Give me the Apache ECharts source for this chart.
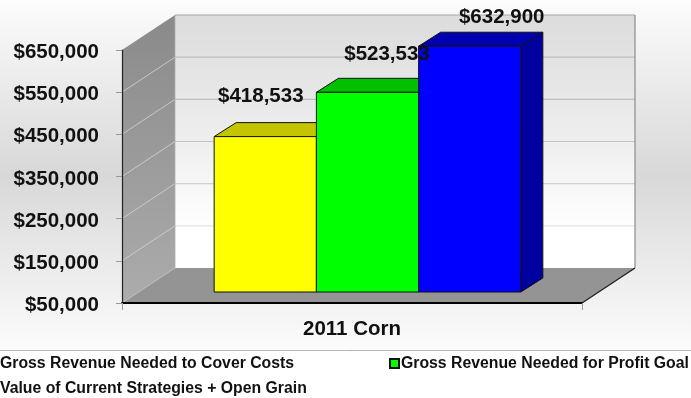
<!DOCTYPE html>
<html>
<head>
<meta charset="utf-8">
<style>html,body{margin:0;padding:0;background:#fff}#c{width:691px;height:398px}</style>
<script src="https://cdn.jsdelivr.net/npm/echarts@6/dist/echarts.min.js"></script>
</head>
<body>
<div id="c"></div>
<script>
const categories = ['2011 Corn'];
const seriesNames = [
  'Gross Revenue Needed to Cover Costs',
  'Gross Revenue Needed for Profit Goal',
  'Value of Current Strategies + Open Grain'
];
const seriesValues = [418533, 523533, 632900];
const tickValues = [50000, 150000, 250000, 350000, 450000, 550000, 650000];

const FONT = '"Liberation Sans", Arial, sans-serif';
const faceColors = ['#ffff00', '#00ff00', '#0000ff'];
const topColors = ['#c4c400', '#00c000', '#0000b0'];
const sideColors = ['#a0a000', '#009800', '#0000a0'];
const gridShades = ['#e2e2e2', '#d0d0d0', '#c4c4c4', '#bebebe', '#bcbcbc'];
// Hand placement of each value caption relative to its bar's top centre
const captionShift = [[-4.5, -40], [19.5, -38], [32, -29]];

const WALL = [53, -35];      // depth of the chart box
const BAR_AT = [15.5, -11];  // where the bar row sits inside that depth
const BAR_D = [22, -14];     // depth of one bar
const BAR_SHARE = 2 / 9;     // width of one bar as a share of the band

const money = v => '$' + v.toLocaleString('en-US');
const poly = (points, fill, stroke, lineWidth) => ({
  type: 'polygon',
  shape: { points },
  style: { fill, stroke: stroke || null, lineWidth: lineWidth || 0 }
});
const seg = (a, b, stroke, lineWidth) => ({
  type: 'line',
  shape: { x1: a[0], y1: a[1], x2: b[0], y2: b[1] },
  style: { stroke, lineWidth }
});
const shift = (p, d) => [p[0] + d[0], p[1] + d[1]];

function renderBox(params, api) {
  const band = api.size([1, 0])[0];
  const cx = api.coord([0, tickValues[0]])[0];
  const yOf = v => api.coord([0, v])[1];
  const x0 = cx - band / 2, x1 = cx + band / 2;
  const lo = tickValues[0], hi = tickValues[tickValues.length - 1];
  const fl = [x0, yOf(lo)], fr = [x1, yOf(lo)], tl = [x0, yOf(hi)];
  const tr = [x1, yOf(hi)];
  const grad = (stops) => ({
    type: 'linear', x: 0, y: 0, x2: 0, y2: 1,
    colorStops: stops.map(s => ({ offset: s[0], color: s[1] }))
  });
  const children = [
    poly([shift(tl, WALL), shift(tr, WALL), shift(fr, WALL), shift(fl, WALL)],
      grad([[0, '#dcdcdc'], [0.5, '#eeeeee'], [0.84, '#ffffff'], [1, '#ffffff']])),
    poly([tl, shift(tl, WALL), shift(fl, WALL), fl], grad([[0, '#8a8a8a'], [1, '#acacac']])),
    poly([fl, shift(fl, WALL), shift(fr, WALL), fr], '#949494')
  ];
  tickValues.slice(1, -1).forEach((v, i) => {
    const f = [x0, yOf(v)], b = shift(f, WALL);
    children.push(seg(f, b, '#d4d4d4', 0.8));
    children.push(seg(b, [x1 + WALL[0], b[1]], gridShades[i], 1.2));
  });
  children.push(seg(fl, shift(fl, WALL), '#c0c0c0', 0.8));
  children.push(seg(shift(tl, WALL), shift(tr, WALL), '#a8a8a8', 1.2));
  children.push(seg(shift(tr, WALL), shift(fr, WALL), '#8c8c8c', 1.2));
  children.push(seg(shift(tl, WALL), shift(fl, WALL), '#b0b0b0', 0.8));
  children.push(seg(fr, shift(fr, WALL), '#222222', 1.4));
  return { type: 'group', children };
}

function renderBar(index) {
  return function (params, api) {
    const band = api.size([1, 0])[0];
    const w = band * BAR_SHARE;
    const top = api.coord([0, api.value(1)]);
    const base = api.coord([0, tickValues[0]]);
    const left = top[0] + BAR_AT[0] + (index - 1.5) * w;
    const right = left + w;
    const yt = top[1] + BAR_AT[1], yb = base[1] + BAR_AT[1];
    const edge = '#111111';
    return {
      type: 'group',
      children: [
        poly([[right, yb], [right + BAR_D[0], yb + BAR_D[1]], [right + BAR_D[0], yt + BAR_D[1]], [right, yt]],
          sideColors[index], edge, 1),
        poly([[left, yt], [left + BAR_D[0], yt + BAR_D[1]], [right + BAR_D[0], yt + BAR_D[1]], [right, yt]],
          topColors[index], edge, 1),
        { type: 'rect', shape: { x: left, y: yt, width: w, height: yb - yt },
          style: { fill: faceColors[index], stroke: edge, lineWidth: 1 } }
      ]
    };
  };
}

function renderCaption(index) {
  return function (params, api) {
    const band = api.size([1, 0])[0];
    const w = band * BAR_SHARE;
    const top = api.coord([0, api.value(1)]);
    return {
      type: 'text',
      z2: 100,
      style: {
        text: money(api.value(1)),
        x: top[0] + BAR_AT[0] + (index - 1) * w + captionShift[index][0],
        y: top[1] + BAR_AT[1] + captionShift[index][1],
        align: 'center', verticalAlign: 'middle',
        font: 'bold 20.5px ' + FONT, fill: '#111111'
      }
    };
  };
}

const chart = echarts.init(document.getElementById('c'), null, { renderer: 'canvas' });

const series = [{
  type: 'custom', name: 'box', silent: true, z: 1, clip: false,
  data: [[0, tickValues[0]]], renderItem: renderBox,
  encode: { x: 0, y: 1 }
}];
seriesNames.forEach((name, i) => {
  series.push({
    type: 'custom', name, z: 2 + i, clip: false,
    itemStyle: { color: faceColors[i], borderColor: '#111111', borderWidth: 1.5 },
    data: [[0, seriesValues[i]]], renderItem: renderBar(i),
    encode: { x: 0, y: 1 }
  });
});
seriesNames.forEach((name, i) => {
  series.push({
    type: 'custom', name: name + ' value', z: 10, clip: false, silent: true,
    data: [[0, seriesValues[i]]], renderItem: renderCaption(i),
    encode: { x: 0, y: 1 }
  });
});

const legendAt = [[-12, 355.5], [389, 355.5], [-12, 380.5]];
const legendBase = {
  orient: 'horizontal', icon: 'rect', itemWidth: 9, itemHeight: 9, itemGap: 0, padding: 0,
  selectedMode: false,
  textStyle: { fontFamily: FONT, fontWeight: 'bold', fontSize: 15.8, color: '#111111', padding: [0, 0, 0, -3] }
};

chart.setOption({
  animation: false,
  graphic: [
    { type: 'rect', z: -10, silent: true,
      shape: { x: 0, y: 0, width: 691, height: 350 },
      style: { fill: { type: 'linear', x: 0, y: 0, x2: 0, y2: 1, colorStops: [
        { offset: 0, color: '#fcfcfc' },
        { offset: 0.5, color: '#d8d8d8' },
        { offset: 1, color: '#fcfcfc' }
      ] } } },
    { type: 'line', z: -9, silent: true,
      shape: { x1: 0, y1: 350.5, x2: 691, y2: 350.5 },
      style: { stroke: '#b4b4b4', lineWidth: 1 } }
  ],
  legend: seriesNames.map((name, i) => Object.assign({}, legendBase, {
    left: legendAt[i][0], top: legendAt[i][1], data: [name]
  })),
  grid: { left: 122, top: 50, width: 460, height: 253 },
  xAxis: {
    type: 'category', data: categories,
    axisLine: { lineStyle: { color: '#000000', width: 2 } },
    axisTick: { show: true, length: 7, lineStyle: { color: '#999999' } },
    axisLabel: { fontFamily: FONT, fontWeight: 'bold', fontSize: 20.5, color: '#111111', margin: 16 },
    z: 5
  },
  yAxis: {
    type: 'value', min: tickValues[0], max: tickValues[tickValues.length - 1],
    splitLine: { show: false },
    axisLine: { show: true, lineStyle: { color: '#222222', width: 1.2 } },
    axisTick: { show: true, length: 6, lineStyle: { color: '#999999' }, customValues: tickValues },
    axisLabel: {
      customValues: tickValues, margin: 23,
      formatter: v => '{v|' + money(v) + '}',
      rich: { v: {
        padding: [5, 0, 0, 0],
        fontFamily: FONT, fontWeight: 'bold', fontSize: 20.5, color: '#111111'
      } }
    },
    z: 5
  },
  series
});
</script>
</body>
</html>
